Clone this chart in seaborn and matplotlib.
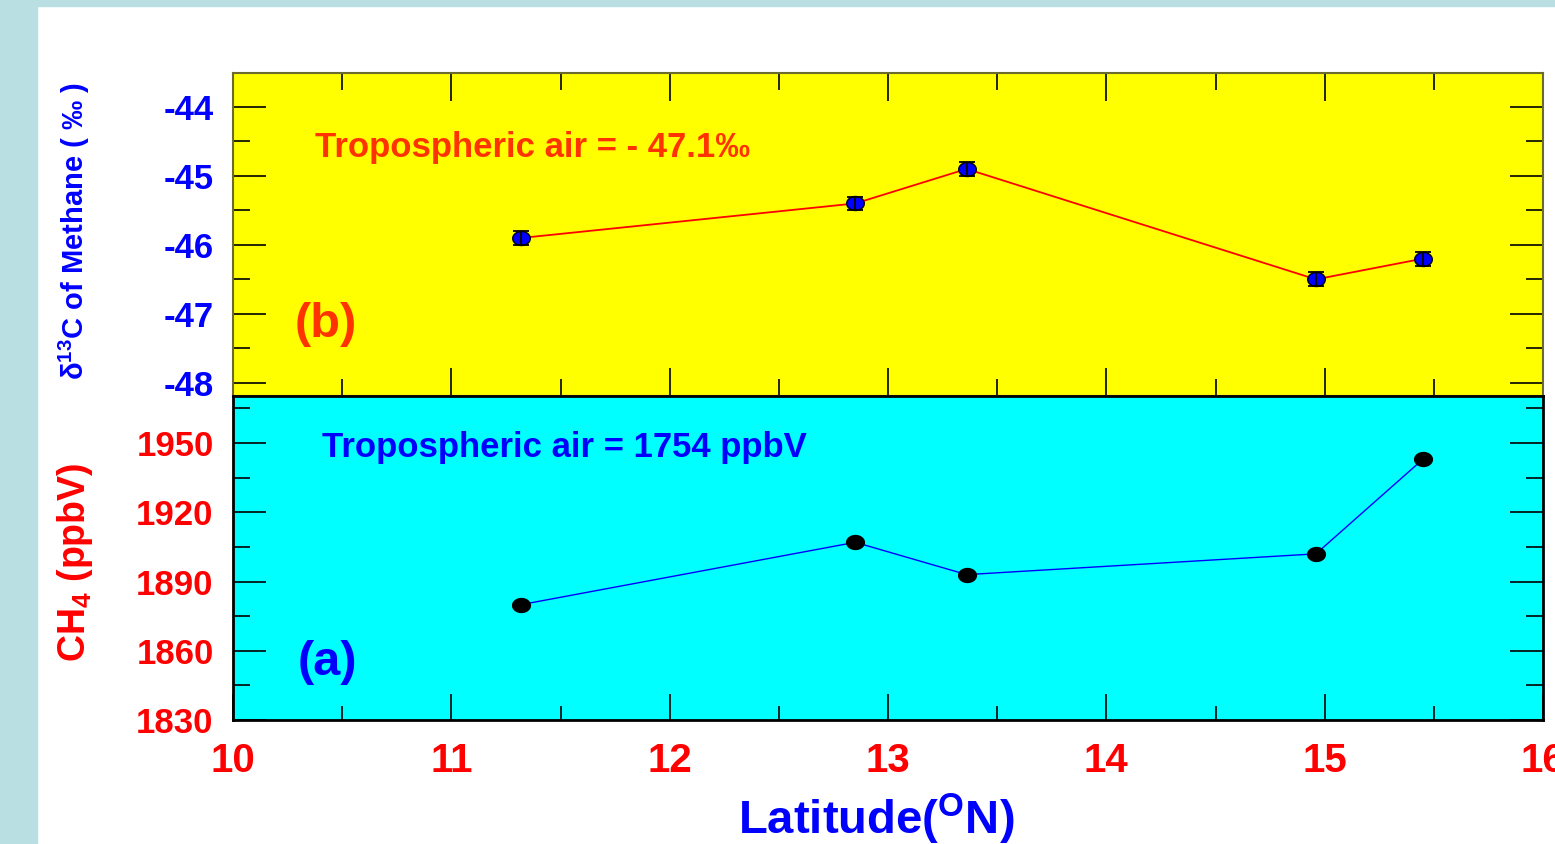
import matplotlib
matplotlib.use("Agg")
import matplotlib.pyplot as plt
import seaborn as sns
import numpy as np
import pandas as pd
from matplotlib.path import Path
from matplotlib.patches import Rectangle
from matplotlib.ticker import MultipleLocator

# data
latitude = [11.32, 12.85, 13.36, 14.96, 15.45]
d13c = [-45.9, -45.4, -44.9, -46.5, -46.2]
d13c_err = [0.1, 0.1, 0.1, 0.1, 0.1]
ch4 = [1880, 1907, 1893, 1902, 1943]

x_ticks = [10, 11, 12, 13, 14, 15, 16]
d13c_ticks = [-44, -45, -46, -47, -48]
ch4_ticks = [1830, 1860, 1890, 1920, 1950]

df = pd.DataFrame({"lat": latitude, "d13c": d13c, "err": d13c_err, "ch4": ch4})

sns.set_theme(style="white")
plt.rcParams["font.family"] = ["Liberation Sans", "DejaVu Sans"]
plt.rcParams["font.weight"] = "bold"
plt.rcParams["axes.unicode_minus"] = False
plt.rcParams["mathtext.default"] = "bf"
plt.rcParams["mathtext.fontset"] = "custom"
plt.rcParams["mathtext.bf"] = "Liberation Sans:bold"
plt.rcParams["mathtext.rm"] = "Liberation Sans:bold"

RED = "#FF0000"
ORANGE = "#FF3300"
BLUE = "#0000FF"

# ellipse marker (wider than tall)
t = np.linspace(0, 2 * np.pi, 60)
ellipse = Path(np.column_stack([1.25 * np.cos(t), np.sin(t)]), closed=True)

fig = plt.figure(figsize=(15.55, 8.44), dpi=100, facecolor="white")
fig.patches.append(Rectangle((0, 0), 37 / 1555, 1, transform=fig.transFigure,
                             color="#B9DFE2", zorder=-5))
fig.patches.append(Rectangle((0, 1 - 6 / 844), 1, 6 / 844, transform=fig.transFigure,
                             color="#B9DFE2", zorder=-5))

left, right = 233 / 1555, 1543 / 1555
y_top, y_mid, y_bot = 1 - 73 / 844, 1 - 396 / 844, 1 - 720 / 844
ax_b = fig.add_axes([left, y_mid, right - left, y_top - y_mid])
ax_a = fig.add_axes([left, y_bot, right - left, y_mid - y_bot])

# ---- panel (b): d13C ----
ax_b.set_facecolor("#FFFF00")
sns.lineplot(data=df, x="lat", y="d13c", ax=ax_b, color="red", lw=1.3, zorder=2)
sns.scatterplot(data=df, x="lat", y="d13c", ax=ax_b, marker=ellipse, s=160,
                color=BLUE, edgecolor="black", linewidth=1, zorder=3)
ax_b.errorbar(latitude, d13c, yerr=d13c_err, fmt="none", ecolor="black",
              elinewidth=1.3, capsize=6, capthick=1.3, zorder=4)
ax_b.set_xlim(10, 16)
ax_b.set_ylim(-48.19, -43.51)
ax_b.set_yticks(d13c_ticks)
ax_b.yaxis.set_minor_locator(MultipleLocator(0.5))
ax_b.set_xticks(x_ticks)
ax_b.xaxis.set_minor_locator(MultipleLocator(0.5))
ax_b.tick_params(axis="x", which="both", direction="in", top=True, bottom=True,
                 labelbottom=False, color="black", width=1.2)
ax_b.tick_params(axis="x", which="major", length=20)
ax_b.tick_params(axis="x", which="minor", length=12)
ax_b.tick_params(axis="y", which="both", direction="in", left=True, right=True,
                 labelcolor=BLUE, labelsize=25, pad=14, color="black", width=1.2)
ax_b.tick_params(axis="y", which="major", length=24)
ax_b.tick_params(axis="y", which="minor", length=12)
for s in ax_b.spines.values():
    s.set_color("#6B6B30")
    s.set_linewidth(1.5)
ax_b.set_xlabel("")
ax_b.set_ylabel("")
ax_b.text(0.0626, 0.74, "Tropospheric air = - 47.1\u2030", transform=ax_b.transAxes,
          color=ORANGE, fontsize=25, fontweight="bold", va="baseline")
ax_b.text(0.047, 0.183, "(b)", transform=ax_b.transAxes,
          color=ORANGE, fontsize=35, fontweight="bold", va="baseline")

# ---- panel (a): CH4 ----
ax_a.set_facecolor("#00FFFF")
sns.lineplot(data=df, x="lat", y="ch4", ax=ax_a, color=BLUE, lw=1.0, zorder=2)
sns.scatterplot(data=df, x="lat", y="ch4", ax=ax_a, marker=ellipse, s=190,
                color="black", edgecolor="black", linewidth=0, zorder=3)
ax_a.set_xlim(10, 16)
ax_a.set_ylim(1830, 1970.4)
ax_a.set_yticks(ch4_ticks)
ax_a.yaxis.set_minor_locator(MultipleLocator(15))
ax_a.set_xticks(x_ticks)
ax_a.xaxis.set_minor_locator(MultipleLocator(0.5))
ax_a.tick_params(axis="x", which="both", direction="in", top=False, bottom=True,
                 labelcolor=RED, labelsize=29, pad=16, color="black", width=1.2)
ax_a.tick_params(axis="x", which="major", length=19)
ax_a.tick_params(axis="x", which="minor", length=10)
ax_a.tick_params(axis="y", which="both", direction="in", left=True, right=True,
                 labelcolor=RED, labelsize=25, pad=14, color="black", width=1.2)
ax_a.tick_params(axis="y", which="major", length=24)
ax_a.tick_params(axis="y", which="minor", length=12)
for s in ax_a.spines.values():
    s.set_color("black")
    s.set_linewidth(2)
ax_a.set_xlabel("")
ax_a.set_ylabel("")
ax_a.text(0.068, 0.812, "Tropospheric air = 1754 ppbV", transform=ax_a.transAxes,
          color=BLUE, fontsize=25, fontweight="bold", va="baseline")
ax_a.text(0.049, 0.139, "(a)", transform=ax_a.transAxes,
          color=BLUE, fontsize=35, fontweight="bold", va="baseline")

for lab in ax_a.get_xticklabels() + ax_a.get_yticklabels() + ax_b.get_yticklabels():
    lab.set_fontweight("bold")

# axis titles
fig.text(0.048, 0.726, "$\\delta^{13}$C of Methane ( \u2030 )",
         rotation=90, ha="center", va="center", color=BLUE, fontsize=21, fontweight="bold")
fig.text(0.048, 0.334, r"CH$_4$ (ppbV)", rotation=90, ha="center", va="center",
         color=RED, fontsize=27, fontweight="bold")
fig.text(876 / 1555, 0.029, r"Latitude($^{\rm O}$N)", ha="center", va="center",
         color=BLUE, fontsize=34, fontweight="bold")

fig.savefig("out.png", dpi=100, facecolor=fig.get_facecolor())
